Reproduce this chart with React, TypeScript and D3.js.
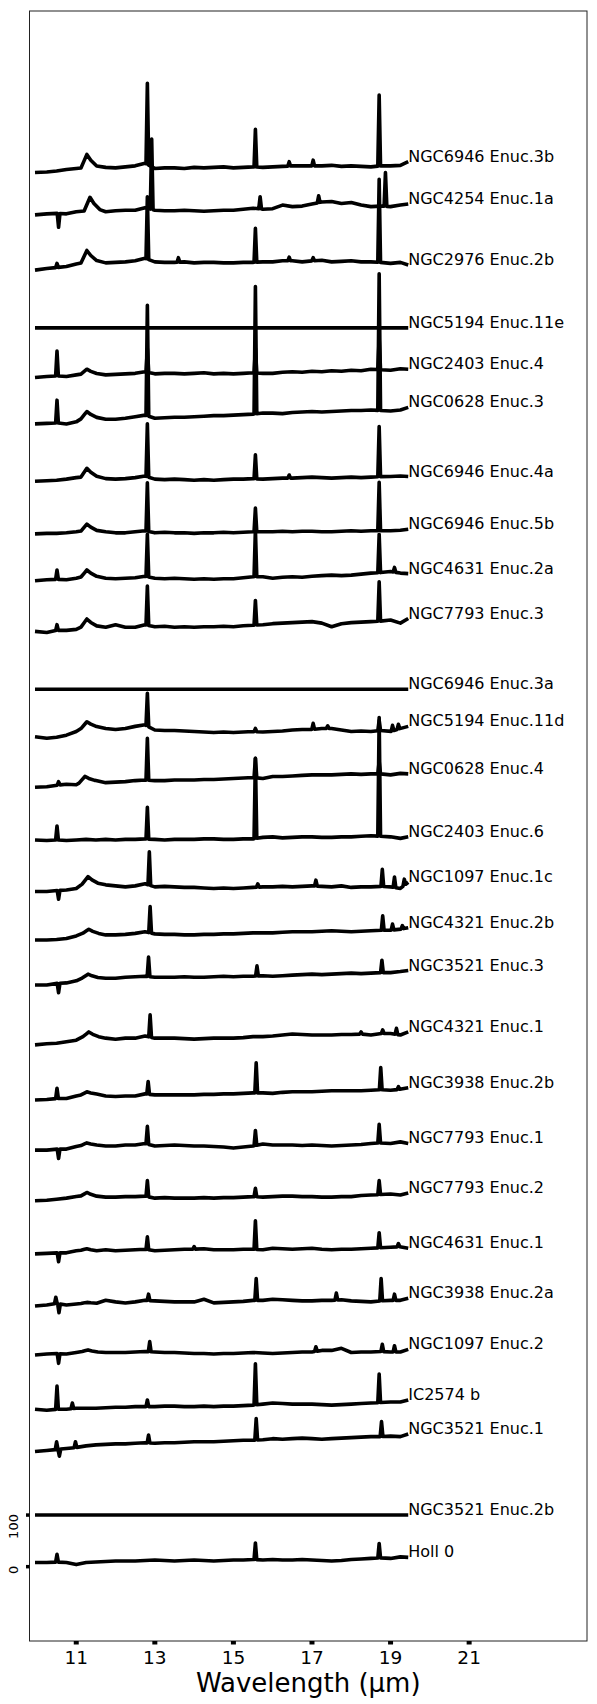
import React, { useEffect, useRef } from 'react';
import * as d3 from 'd3';

// wavelength grid for the continuum values (µm)
const grid = [9.95, 10.25, 10.5, 10.75, 11, 11.25, 11.5, 11.75, 12, 12.25, 12.5, 12.75, 13, 13.25, 13.5, 13.75, 14, 14.25, 14.5, 14.75,
  15, 15.25, 15.5, 15.75, 16, 16.25, 16.5, 16.75, 17, 17.25, 17.5, 17.75, 18, 18.25, 18.5, 18.75, 19, 19.25, 19.45];

// spectra, top to bottom
const names = [
  'NGC6946 Enuc.3b', 'NGC4254 Enuc.1a', 'NGC2976 Enuc.2b', 'NGC5194 Enuc.11e', 'NGC2403 Enuc.4', 'NGC0628 Enuc.3',
  'NGC6946 Enuc.4a', 'NGC6946 Enuc.5b', 'NGC4631 Enuc.2a', 'NGC7793 Enuc.3', 'NGC6946 Enuc.3a', 'NGC5194 Enuc.11d',
  'NGC0628 Enuc.4', 'NGC2403 Enuc.6', 'NGC1097 Enuc.1c', 'NGC4321 Enuc.2b', 'NGC3521 Enuc.3', 'NGC4321 Enuc.1',
  'NGC3938 Enuc.2b', 'NGC7793 Enuc.1', 'NGC7793 Enuc.2', 'NGC4631 Enuc.1', 'NGC3938 Enuc.2a', 'NGC1097 Enuc.2',
  'IC2574 b', 'NGC3521 Enuc.1', 'NGC3521 Enuc.2b', 'Holl 0',
];

const zeros = grid.map(() => 0);

const continuum = [
  [1, 2, 4, 7, 9, 11, 14, 11, 10, 12, 14, 19, 9, 10, 10, 9, 11, 10, 11, 12, 10, 11, 12, 11, 12, 13, 14, 14, 14, 14, 15, 13, 14, 13, 12, 14, 14, 15, 22],
  [19, 21, 22, 21, 25, 27, 32, 25, 27, 28, 28, 33, 28, 27, 27, 28, 27, 26, 27, 28, 28, 30, 32, 30, 31, 38, 35, 36, 40, 44, 45, 41, 43, 38, 35, 36, 35, 38, 40],
  [12, 15, 17, 19, 24, 28, 31, 26, 27, 28, 30, 35, 28, 27, 27, 28, 26, 27, 27, 26, 26, 27, 27, 28, 28, 30, 30, 28, 30, 31, 28, 29, 30, 28, 28, 27, 25, 27, 22],
  zeros,
  [4, 6, 7, 6, 9, 12, 12, 9, 10, 11, 12, 15, 11, 12, 12, 11, 12, 13, 11, 12, 11, 12, 13, 12, 12, 14, 15, 14, 16, 15, 17, 16, 18, 17, 20, 19, 18, 21, 20],
  [14, 15, 16, 14, 18, 30, 27, 23, 23, 25, 28, 31, 25, 26, 27, 27, 28, 29, 30, 30, 31, 32, 33, 35, 35, 34, 36, 37, 38, 37, 38, 39, 40, 40, 41, 40, 39, 41, 46],
  [3, 4, 5, 7, 10, 12, 13, 8, 7, 8, 10, 13, 7, 6, 7, 6, 5, 6, 5, 6, 7, 7, 8, 7, 8, 9, 9, 10, 11, 10, 9, 10, 11, 10, 11, 12, 12, 13, 12],
  [1, 2, 2, 3, 5, 8, 8, 5, 3, 3, 5, 7, 3, 4, 3, 3, 2, 3, 3, 4, 3, 4, 5, 5, 5, 6, 5, 6, 6, 5, 5, 6, 7, 6, 7, 7, 7, 8, 10],
  [10, 12, 13, 12, 15, 20, 19, 15, 14, 15, 16, 19, 15, 14, 15, 14, 13, 14, 13, 14, 14, 16, 18, 18, 15, 17, 18, 17, 19, 20, 21, 20, 21, 23, 25, 26, 28, 25, 24],
  [12, 10, 14, 14, 16, 25, 23, 20, 25, 20, 20, 25, 21, 22, 20, 21, 20, 21, 21, 22, 21, 23, 24, 25, 27, 28, 29, 30, 31, 28, 21, 27, 29, 30, 31, 32, 34, 28, 37],
  zeros,
  [8, 5, 7, 11, 18, 30, 28, 24, 22, 24, 28, 31, 21, 20, 20, 19, 18, 17, 16, 17, 16, 17, 18, 17, 18, 19, 21, 22, 22, 24, 24, 21, 18, 19, 18, 20, 18, 24, 28],
  [10, 11, 14, 16, 15, 26, 23, 19, 20, 21, 23, 24, 23, 23, 24, 24, 24, 25, 25, 26, 27, 28, 29, 27, 31, 31, 32, 33, 34, 34, 34, 35, 36, 35, 36, 36, 34, 37, 36],
  [8, 7, 8, 7, 8, 9, 8, 9, 8, 9, 9, 10, 9, 8, 9, 9, 9, 10, 10, 9, 9, 10, 10, 13, 14, 12, 13, 14, 14, 13, 13, 14, 14, 15, 16, 15, 14, 11, 14],
  [8, 8, 10, 11, 14, 28, 25, 21, 19, 17, 19, 23, 17, 18, 17, 16, 16, 15, 14, 15, 14, 15, 16, 17, 17, 18, 17, 18, 19, 18, 17, 19, 16, 17, 17, 18, 17, 14, 26],
  [14, 14, 15, 17, 22, 30, 28, 24, 24, 25, 27, 30, 26, 25, 25, 24, 24, 25, 25, 26, 26, 27, 28, 28, 28, 29, 30, 30, 30, 31, 32, 31, 30, 31, 32, 33, 33, 35, 38],
  [27, 27, 30, 31, 35, 44, 42, 40, 40, 42, 43, 44, 42, 42, 42, 43, 42, 42, 43, 44, 43, 44, 44, 45, 44, 45, 46, 47, 48, 47, 48, 49, 50, 49, 50, 51, 51, 53, 55],
  [11, 13, 14, 17, 20, 30, 28, 24, 22, 24, 24, 28, 24, 24, 24, 23, 22, 23, 24, 24, 24, 25, 27, 27, 28, 30, 32, 31, 30, 30, 30, 31, 31, 32, 30, 33, 33, 30, 36],
  [4, 5, 7, 7, 12, 16, 16, 12, 11, 12, 12, 16, 14, 14, 14, 14, 14, 15, 15, 16, 16, 17, 18, 18, 17, 19, 20, 20, 20, 21, 22, 22, 22, 22, 23, 24, 23, 25, 28],
  [7, 7, 9, 9, 14, 18, 17, 15, 15, 17, 17, 20, 15, 16, 17, 16, 15, 15, 14, 13, 11, 13, 15, 19, 17, 17, 17, 16, 17, 16, 15, 16, 17, 18, 20, 21, 20, 23, 20],
  [9, 10, 12, 14, 17, 20, 18, 16, 16, 17, 17, 18, 14, 15, 14, 14, 14, 15, 14, 15, 15, 16, 17, 16, 17, 18, 18, 17, 17, 16, 16, 17, 17, 19, 20, 21, 22, 20, 24],
  [6, 7, 8, 8, 12, 14, 12, 14, 12, 13, 14, 15, 12, 13, 14, 15, 15, 16, 14, 14, 14, 15, 15, 14, 17, 16, 15, 16, 17, 15, 14, 15, 15, 16, 17, 18, 19, 20, 17],
  [5, 7, 10, 7, 9, 11, 10, 16, 13, 11, 13, 16, 15, 14, 13, 13, 13, 18, 11, 12, 13, 14, 16, 16, 18, 17, 16, 15, 15, 16, 16, 17, 15, 14, 13, 15, 16, 16, 20],
  [10, 12, 13, 12, 15, 18, 16, 15, 15, 15, 16, 17, 16, 15, 15, 14, 13, 13, 12, 13, 13, 14, 15, 14, 13, 14, 15, 16, 16, 19, 19, 23, 15, 16, 16, 17, 16, 16, 21],
  [5, 3, 5, 5, 7, 7, 7, 8, 9, 9, 10, 10, 10, 11, 11, 10, 10, 11, 10, 11, 11, 12, 13, 15, 17, 16, 15, 15, 15, 14, 13, 14, 15, 16, 17, 18, 19, 19, 23],
  [23, 25, 27, 29, 31, 34, 36, 37, 38, 38, 39, 40, 39, 40, 40, 41, 42, 42, 42, 43, 44, 45, 45, 46, 48, 47, 48, 49, 48, 47, 48, 49, 50, 51, 52, 52, 53, 52, 57],
  zeros,
  [8, 8, 9, 8, 4, 8, 9, 10, 11, 11, 11, 12, 13, 12, 11, 12, 13, 12, 11, 12, 13, 13, 14, 13, 14, 13, 13, 14, 13, 12, 11, 12, 14, 15, 16, 17, 16, 19, 18],
];

// narrow lines: [wavelength, peak value]
const lines = [
  [[12.81, 174], [15.56, 85], [16.42, 22], [17.03, 25], [18.71, 151]],
  [[10.55, -5], [12.92, 166], [15.68, 54], [17.17, 56], [18.87, 101]],
  [[10.51, 25], [12.81, 154], [13.6, 36], [15.56, 93], [16.42, 37], [17.03, 36], [18.71, 188]],
  [],
  [[10.51, 55], [12.81, 60], [15.56, 60], [18.71, 80]],
  [[10.51, 60], [12.81, 244], [15.56, 280], [18.71, 305]],
  [[12.81, 114], [15.56, 54], [16.42, 15], [18.71, 109]],
  [[12.81, 100], [15.56, 51], [18.71, 101]],
  [[10.51, 31], [12.81, 100], [15.56, 110], [18.71, 100], [19.1, 36]],
  [[10.51, 25], [12.81, 100], [15.56, 72], [18.71, 108]],
  [],
  [[12.81, 92], [15.56, 24], [17.03, 34], [17.4, 29], [18.71, 40], [19.05, 30], [19.2, 32]],
  [[10.55, 21], [12.81, 105], [15.56, 66], [18.71, 60]],
  [[10.51, 35], [12.81, 71], [15.56, 166], [18.71, 245]],
  [[10.55, -7], [12.86, 85], [15.62, 23], [17.1, 30], [18.79, 51], [19.1, 36], [19.35, 32]],
  [[12.88, 79], [18.8, 61], [19.05, 45], [19.3, 42]],
  [[10.55, 12], [12.84, 81], [15.6, 64], [18.78, 75]],
  [[12.88, 69], [18.25, 36], [18.8, 40], [19.15, 43]],
  [[10.51, 27], [12.83, 40], [15.58, 76], [18.75, 67], [19.2, 30]],
  [[10.55, -9], [12.81, 53], [15.56, 45], [18.71, 57]],
  [[12.81, 48], [15.56, 33], [18.71, 48]],
  [[10.55, -9], [12.81, 39], [14.0, 20], [15.56, 70], [18.71, 47], [19.2, 26]],
  [[10.48, 22], [10.56, -8], [12.84, 28], [15.58, 58], [17.62, 30], [18.76, 58], [19.1, 28]],
  [[10.55, -6], [12.87, 36], [17.1, 26], [18.79, 31], [19.1, 28]],
  [[10.51, 50], [10.9, 17], [12.81, 23], [15.56, 93], [18.71, 73]],
  [[10.5, 42], [10.57, 14], [10.98, 42], [12.84, 55], [15.58, 87], [18.77, 81]],
  [],
  [[10.51, 24], [15.56, 46], [18.71, 45]],
];

// 11.3 µm PAH bump: [wavelength, peak value], null if absent
const pah = [
  [11.27, 36], [11.35, 53], [11.27, 50], null, [11.27, 20], [11.27, 38], [11.27, 28], [11.27, 20], [11.27, 31], [11.27, 36],
  null, [11.27, 37], [11.22, 31], null, [11.3, 37], [11.32, 35], [11.3, 48], [11.32, 36], [11.27, 20], [11.27, 21],
  [11.27, 25], [11.27, 16], [11.27, 12], [11.3, 20], null, null, null, null,
];

const xTicks = [11, 13, 15, 17, 19, 21];
const yTicks = [0, 100];
const step = 100; // vertical offset between spectra

const W = 597;
const H = 1704;
const frame = { left: 29.5, right: 587, top: 11, bottom: 1641 };
const font = 'DejaVu Sans, sans-serif';

function spectrumPoints(k) {
  const cont = continuum[k];
  const base = (w) => {
    let i = d3.bisectRight(grid, w) - 1;
    i = Math.max(0, Math.min(grid.length - 2, i));
    const t = (w - grid[i]) / (grid[i + 1] - grid[i]);
    return cont[i] + t * (cont[i + 1] - cont[i]);
  };
  const feats = [];
  lines[k].forEach(([w, v]) => {
    feats.push({ lo: w - 0.055, hi: w + 0.055, pts: [[w - 0.035, base(w - 0.035)], [w, v], [w + 0.035, base(w + 0.035)]] });
  });
  if (pah[k]) {
    const [w, v] = pah[k];
    const b0 = base(w - 0.15);
    const b1 = base(w + 0.25);
    feats.push({
      lo: w - 0.17, hi: w + 0.27,
      pts: [[w - 0.15, b0], [w - 0.06, b0 + 0.6 * (v - b0)], [w, v], [w + 0.1, b1 + 0.5 * (v - b1)], [w + 0.25, b1]],
    });
  }
  const pts = grid.map((w, i) => [w, cont[i]]).filter(([w]) => !feats.some((f) => w > f.lo && w < f.hi));
  feats.forEach((f) => pts.push(...f.pts));
  pts.sort((a, b) => a[0] - b[0]);
  return pts;
}

const App = () => {
  const ref = useRef(null);

  useEffect(() => {
    if (!ref.current) return;
    const svg = d3.select(ref.current);
    svg.selectAll('*').remove();

    const x = d3.scaleLinear().domain([9.81, 24.0]).range([frame.left, frame.right]);
    const y = d3.scaleLinear().domain([-144, 3014]).range([frame.bottom, frame.top]);
    const n = names.length;

    const line = d3.line().x((d) => x(d[0])).y((d) => y(d[1])).curve(d3.curveLinear);

    // spectra
    names.forEach((name, k) => {
      const off = (n - 1 - k) * step;
      const pts = spectrumPoints(k).map(([w, v]) => [w, v + off]);
      svg.append('path')
        .datum(pts)
        .attr('fill', 'none')
        .attr('stroke', '#000')
        .attr('stroke-width', 3.6)
        .attr('stroke-linejoin', 'round')
        .attr('d', line);
      const last = pts[pts.length - 1];
      svg.append('text')
        .attr('x', x(last[0]))
        .attr('y', y(last[1]))
        .attr('font-family', font)
        .attr('font-size', 16)
        .attr('fill', '#000')
        .text(name);
    });

    // frame
    svg.append('rect')
      .attr('x', frame.left)
      .attr('y', frame.top)
      .attr('width', frame.right - frame.left)
      .attr('height', frame.bottom - frame.top)
      .attr('fill', 'none')
      .attr('stroke', '#222')
      .attr('stroke-width', 1);

    // x ticks
    xTicks.forEach((t) => {
      svg.append('line')
        .attr('x1', x(t)).attr('x2', x(t))
        .attr('y1', frame.bottom).attr('y2', frame.bottom + 3.5)
        .attr('stroke', '#000').attr('stroke-width', 5);
      svg.append('text')
        .attr('x', x(t)).attr('y', 1663.5)
        .attr('text-anchor', 'middle')
        .attr('font-family', font)
        .attr('font-size', 18.5)
        .text(t);
    });

    // y ticks
    yTicks.forEach((t) => {
      svg.append('line')
        .attr('x1', frame.left - 3.5).attr('x2', frame.left)
        .attr('y1', y(t)).attr('y2', y(t))
        .attr('stroke', '#000').attr('stroke-width', 3.5);
      svg.append('text')
        .attr('transform', `translate(18.3,${y(t) - 1}) rotate(-90)`)
        .attr('text-anchor', 'end')
        .attr('font-family', font)
        .attr('font-size', 13)
        .text(t);
    });

    svg.append('text')
      .attr('x', (frame.left + frame.right) / 2)
      .attr('y', 1692)
      .attr('text-anchor', 'middle')
      .attr('font-family', font)
      .attr('font-size', 26)
      .text('Wavelength (µm)');
  }, []);

  return (
    <svg ref={ref} width={W} height={H} style={{ position: 'absolute', left: 0, top: 0, background: '#fff' }} />
  );
};

export default App;
